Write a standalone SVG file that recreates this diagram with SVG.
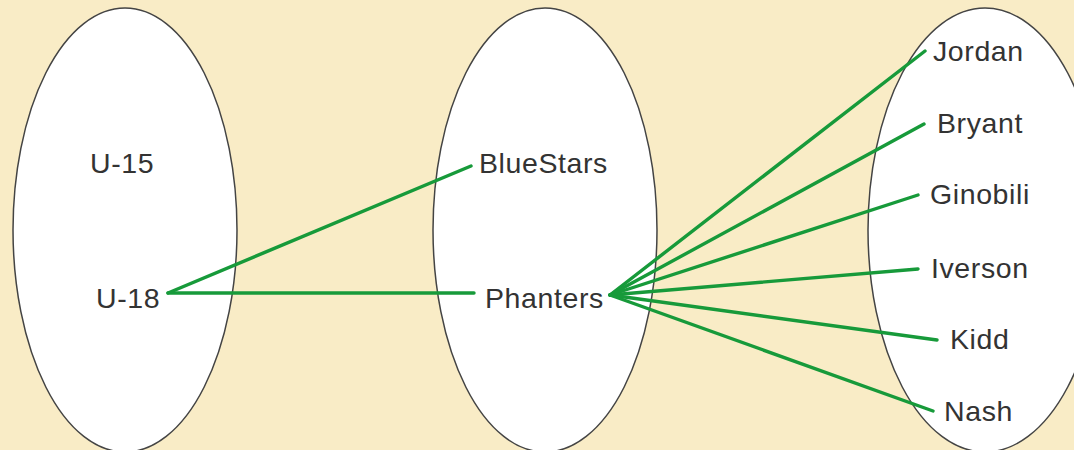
<svg xmlns="http://www.w3.org/2000/svg" width="1074" height="450" viewBox="0 0 1074 450">
<style>
.set{fill:#ffffff;stroke:#444444;stroke-width:1.5}
.lbl{font-family:"Liberation Sans",Arial,sans-serif;font-size:28.5px;letter-spacing:0.6px;fill:#333333}
.edge{stroke:#179a3a;stroke-width:3.4;fill:none;stroke-linecap:round}
</style>
<rect width="1074" height="450" fill="#f9ecc6"/>
<g id="set-ages"><ellipse class="set" cx="125" cy="230" rx="112" ry="222"/></g>
<g id="set-teams"><ellipse class="set" cx="545" cy="230" rx="112" ry="222"/></g>
<g id="set-players"><ellipse class="set" cx="985" cy="230" rx="117" ry="222"/></g>
<g id="connectors">
<line class="edge" x1="168" y1="293" x2="471" y2="166"/>
<line class="edge" x1="168" y1="293" x2="474" y2="293"/>
<line class="edge" x1="610" y1="295" x2="925" y2="51"/>
<line class="edge" x1="610" y1="295" x2="924" y2="124"/>
<line class="edge" x1="610" y1="295" x2="918" y2="195"/>
<line class="edge" x1="610" y1="295" x2="918" y2="269"/>
<line class="edge" x1="610" y1="295" x2="937" y2="340"/>
<line class="edge" x1="610" y1="295" x2="933" y2="411"/>
</g>
<g id="n-u15"><text class="lbl" x="90" y="173">U-15</text></g>
<g id="n-u18"><text class="lbl" x="96" y="308">U-18</text></g>
<g id="n-bluestars"><text class="lbl" x="479" y="173">BlueStars</text></g>
<g id="n-phanters"><text class="lbl" x="485" y="308">Phanters</text></g>
<g id="n-jordan"><text class="lbl" x="933" y="61">Jordan</text></g>
<g id="n-bryant"><text class="lbl" x="937" y="133">Bryant</text></g>
<g id="n-ginobili"><text class="lbl" x="930" y="204">Ginobili</text></g>
<g id="n-iverson"><text class="lbl" x="931" y="278">Iverson</text></g>
<g id="n-kidd"><text class="lbl" x="950" y="349">Kidd</text></g>
<g id="n-nash"><text class="lbl" x="944" y="421">Nash</text></g>
</svg>
